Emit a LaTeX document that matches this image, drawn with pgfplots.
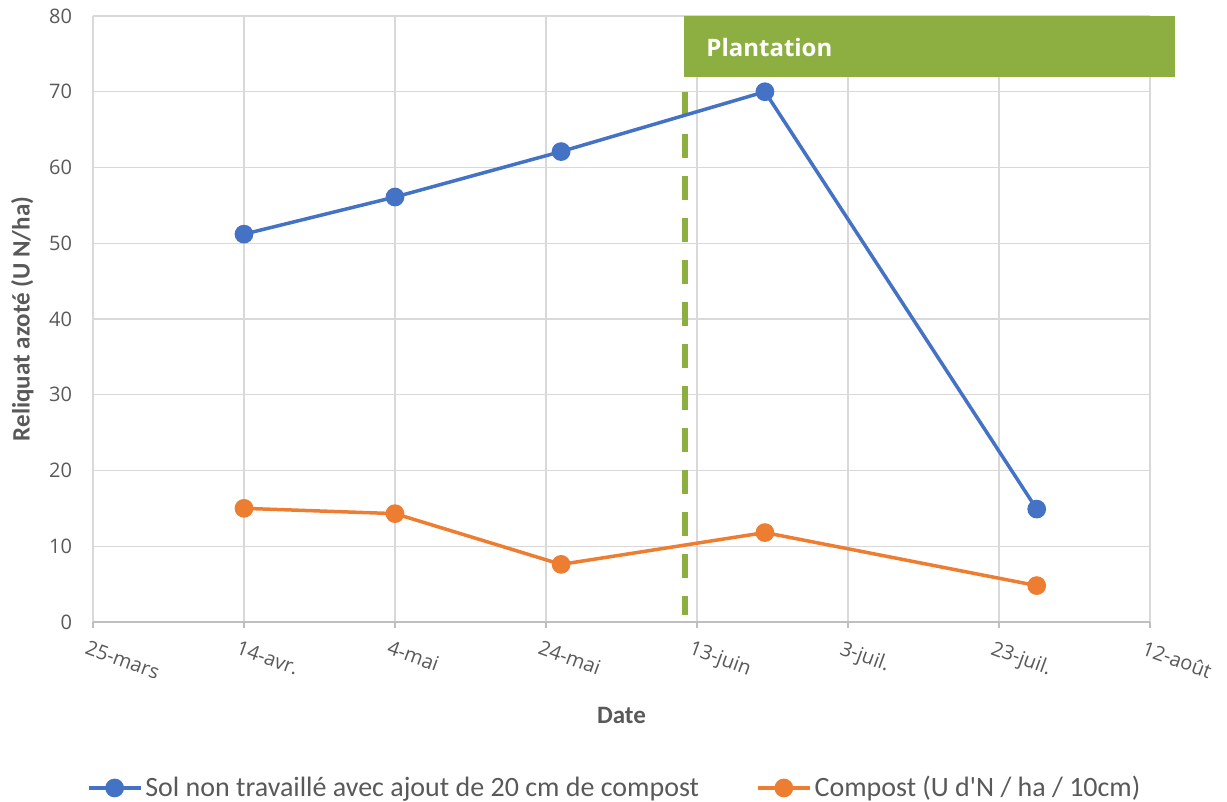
\documentclass[border=0pt]{standalone}
\usepackage{pgfplots}
\pgfplotsset{compat=1.18}
\usepackage{fontspec}
\setmainfont{Carlito}
\newfontfamily\tickfont{Open Sans}
\definecolor{cblue}{HTML}{4472C4}
\definecolor{corange}{HTML}{ED7D31}
\definecolor{cgreen}{HTML}{8DAF42}
\definecolor{cgrid}{HTML}{D9D9D9}
\definecolor{caxis}{HTML}{BFBFBF}
\definecolor{ctext}{HTML}{595959}
\begin{document}
\begin{tikzpicture}
\begin{axis}[
  width=528.5pt, height=303pt, scale only axis,
  xmin=0, xmax=140, ymin=0, ymax=80,
  xtick={0,20,...,140},
  xticklabels={25-mars,14-avr.,4-mai,24-mai,13-juin,3-juil.,23-juil.,12-août},
  ytick={0,10,...,80},
  grid=major, major grid style={cgrid, line width=0.7pt},
  axis x line*=bottom, axis y line*=left,
  x axis line style={caxis, line width=0.8pt, -},
  y axis line style={draw=none},
  tick align=outside, major tick length=3pt,
  xtick style={caxis, line width=0.7pt},
  ytick style={draw=none},
  /pgf/number format/assume math mode=true,
  tick label style={font=\tickfont\fontsize{10}{12}\selectfont, text=ctext},
  xticklabel style={rotate=-20, anchor=north west, xshift=-1pt, yshift=-5pt, inner sep=1pt},
  yticklabel style={xshift=-4pt},
  xlabel={Date}, ylabel={Reliquat azoté (U N/ha)},
  label style={font=\bfseries\fontsize{12.5}{14}\selectfont, text=ctext},
  xlabel style={at={(axis description cs:0.5,-0.155)}, anchor=center},
  ylabel style={at={(axis description cs:-0.067,0.5)}, anchor=center},
  clip=false,
  legend columns=2,
  legend style={draw=none, fill=none, at={(0.494,-0.274)}, anchor=center,
    font=\fontsize{14}{16}\selectfont, text=ctext,
    /tikz/every even column/.append style={column sep=27pt},
    nodes={inner xsep=1.5pt}},
  legend image code/.code={\draw[mark repeat=2,mark phase=2,#1] plot coordinates {(0pt,0pt)(13pt,0pt)(26pt,0pt)};},
]
% Plantation marker
\addplot[cgreen, line width=3pt, dash pattern=on 12pt off 9pt, forget plot] coordinates {(78.4,70) (78.4,0.9)};
\fill[cgreen] (axis cs:78.3,71.95) rectangle (axis cs:143.3,80);
\node[anchor=west, text=white, font=\tickfont\bfseries\fontsize{12}{14}\selectfont, inner sep=0pt] at (axis cs:81.2,75.9) {Plantation};

\addplot[cblue, line width=1.75pt, mark=*, mark size=3.8pt, mark options={solid, fill=cblue}] coordinates {
  (20,51.2) (40,56.1) (62,62.1) (89,70.0) (125,14.9)
};
\addlegendentry{Sol non travaillé avec ajout de 20 cm de compost}
\addplot[corange, line width=1.75pt, mark=*, mark size=3.8pt, mark options={solid, fill=corange}] coordinates {
  (20,15.0) (40,14.3) (62,7.6) (89,11.8) (125,4.8)
};
\addlegendentry{Compost (U d\textquotesingle N / ha / 10cm)}

\coordinate (bl) at (rel axis cs:-0.088,-0.297);
\coordinate (tr) at (rel axis cs:1.0729,1.0264);
\end{axis}
\pgfresetboundingbox
\path[use as bounding box] (bl) rectangle (tr);
\end{tikzpicture}
\end{document}
